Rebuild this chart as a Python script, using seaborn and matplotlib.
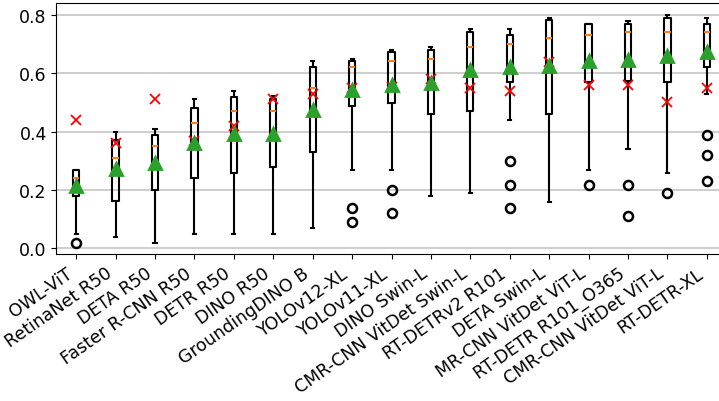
import matplotlib
matplotlib.use("Agg")
import matplotlib.pyplot as plt
import seaborn as sns
import pandas as pd

models = ["OWL-ViT", "RetinaNet R50", "DETA R50", "Faster R-CNN R50", "DETR R50",
          "DINO R50", "GroundingDINO B", "YOLOv12-XL", "YOLOv11-XL", "DINO Swin-L",
          "CMR-CNN VitDet Swin-L", "RT-DETRv2 R101", "DETA Swin-L",
          "MR-CNN VitDet ViT-L", "RT-DETR R101_O365", "CMR-CNN VitDet ViT-L", "RT-DETR-XL"]

q1 = [0.179, 0.163, 0.200, 0.240, 0.259, 0.280, 0.329, 0.489, 0.499, 0.461, 0.470,
      0.570, 0.461, 0.570, 0.573, 0.570, 0.621]
med = [0.240, 0.311, 0.352, 0.430, 0.471, 0.470, 0.551, 0.621, 0.641, 0.650, 0.690,
       0.702, 0.721, 0.731, 0.741, 0.741, 0.741]
q3 = [0.270, 0.370, 0.390, 0.481, 0.520, 0.512, 0.621, 0.641, 0.672, 0.681, 0.741,
      0.731, 0.782, 0.771, 0.771, 0.791, 0.771]
whislo = [0.049, 0.040, 0.019, 0.049, 0.049, 0.049, 0.070, 0.270, 0.270, 0.179, 0.191,
          0.441, 0.160, 0.270, 0.341, 0.259, 0.530]
whishi = [0.270, 0.400, 0.410, 0.512, 0.541, 0.522, 0.641, 0.649, 0.680, 0.691, 0.752,
          0.752, 0.791, 0.771, 0.781, 0.801, 0.791]
fliers = [[0.019], [], [], [], [], [], [], [0.139, 0.091], [0.200, 0.120], [], [],
          [0.299, 0.219, 0.139], [], [0.219], [0.219, 0.110], [0.190],
          [0.390, 0.320, 0.230]]
means = [0.215, 0.272, 0.293, 0.363, 0.392, 0.392, 0.474, 0.543, 0.561, 0.567, 0.611,
         0.623, 0.626, 0.643, 0.646, 0.661, 0.675]
other = [0.441, 0.361, 0.511, 0.369, 0.420, 0.511, 0.531, 0.551, 0.552, 0.581, 0.551,
         0.541, 0.638, 0.561, 0.561, 0.501, 0.551]
yticks = [0.0, 0.2, 0.4, 0.6, 0.8]

# Build sample values reproducing the read five-number summaries (+ outliers)
rows = []
for i, m in enumerate(models):
    vals = list(fliers[i]) + [whislo[i]] * (4 - len(fliers[i])) + [q1[i]] * 4 \
        + [med[i]] * 4 + [q3[i]] * 4 + [whishi[i]]
    rows += [(m, v) for v in vals]
df = pd.DataFrame(rows, columns=["model", "value"])

fig = plt.figure(figsize=(7.19, 4.02), dpi=100)
ax = fig.add_axes([56.5 / 719, 146.9 / 402, 670 / 719, 250.8 / 402])

ax.yaxis.grid(True, color="#c6c6c6", linewidth=1.2, zorder=0)
ax.set_axisbelow(True)

sns.boxplot(data=df, x="model", y="value", order=models, ax=ax,
            fill=False, color="black", linecolor="black", width=0.16,
            linewidth=1.5, whis=1.5,
            medianprops=dict(color="#ff7f0e", linewidth=1.5),
            flierprops=dict(marker="o", markerfacecolor="none",
                            markeredgecolor="black", markersize=6.5,
                            markeredgewidth=1.8))

sns.pointplot(x=models, y=other, order=models, ax=ax, color="red",
              marker="x", linestyle="none", markersize=7,
              markeredgewidth=1.3, errorbar=None, zorder=5)
sns.pointplot(x=models, y=means, order=models, ax=ax, color="#2ca02c",
              marker="^", linestyle="none", markersize=8,
              errorbar=None, zorder=6)

ax.set_xlim(-0.5, len(models) - 0.5)
ax.set_ylim(-0.0196, 0.8405)
ax.set_yticks(yticks)
ax.set_yticklabels([f"{t:.1f}" for t in yticks], fontsize=12.5)
ax.set_xticks(range(len(models)))
ax.set_xticklabels(models, rotation=35, ha="right", fontsize=12.5)
ax.set_xlabel("")
ax.set_ylabel("")
for s in ax.spines.values():
    s.set_visible(True)
    s.set_color("black")

fig.savefig("out.png", dpi=100)
